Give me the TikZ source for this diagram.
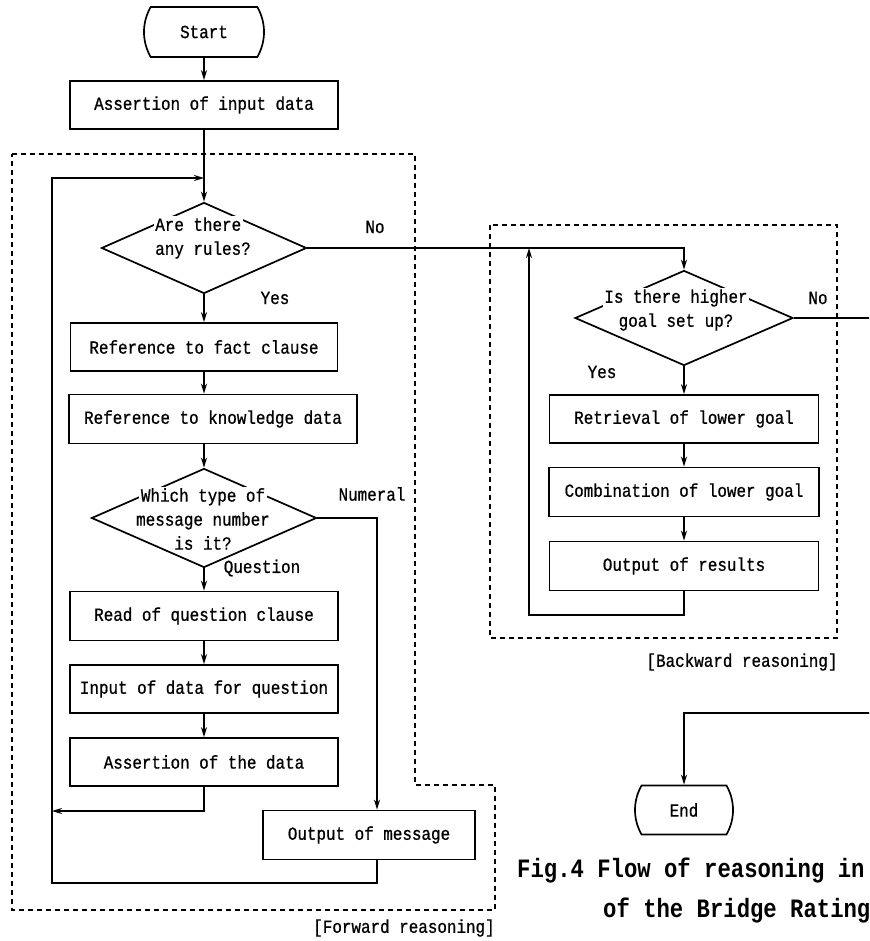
\documentclass[tikz,border=0pt]{standalone}
\usepackage{fontspec}
\setmainfont[FakeStretch=0.86,FakeBold=0.8]{Liberation Mono}
\newfontfamily\capfont[FakeStretch=0.84]{Liberation Mono}
\usetikzlibrary{positioning,calc,shapes.geometric,shapes.misc,arrows.meta}

\newcommand{\gapbox}[1]{{\setlength{\fboxsep}{1.5pt}\colorbox{white}{#1}}}

\tikzset{
  proc/.style={rectangle,draw,line width=1.7pt,minimum height=48pt,inner sep=0pt},
  term/.style={rounded rectangle,rounded rectangle arc length=60,draw,line width=1.7pt,
               minimum height=50pt,inner sep=0pt},
  dec/.style={diamond,draw,line width=1.7pt,inner sep=0pt},
  dectext/.style={inner sep=0pt,align=center},
  lbl/.style={inner sep=0pt},
  region/.style={draw,line width=1.3pt,dash pattern=on 5pt off 4pt},
  flow/.style={line width=1.7pt,->}
}

\begin{document}
\begin{tikzpicture}[x=1pt,y=-1pt,>={Stealth[length=10pt,width=6pt]},
                    every node/.style={font=\fontsize{18.5}{24}\selectfont}]
    \useasboundingbox (0,0) rectangle (869,941);
    \clip (0,0) rectangle (869,941);

    %Regions
    \draw[region] (12,154) -- (415,154) -- (415,785) -- (495,785) -- (495,910) -- (12,910) -- cycle;
    \draw[region] (490,225) rectangle (837,638);

    %Nodes (forward)
    \node[term,minimum width=120pt] (start) at (204,32) {Start};
    \node[proc,minimum width=268pt] (assert1) at (204,105) {Assertion of input data};
    \node[dec,minimum width=205pt,minimum height=91pt] (q1) at (204,248) {};
    \node[dectext,align=left] (q1t) at (203,238) {\gapbox{Are there}\\\gapbox{any rules?}};
    \node[proc,minimum width=267pt] (fact) at (204,347) {Reference to fact clause};
    \node[proc,minimum width=288pt,minimum height=49pt] (know) at (213,419) {Reference to knowledge data};
    \node[dec,minimum width=225pt,minimum height=99pt] (q2) at (204,518) {};
    \node[dectext] (q2t) at (203,519) {\gapbox{Which type of}\\\gapbox{message number}\\\gapbox{is it?}};
    \node[proc,minimum width=268pt,minimum height=49pt] (readq) at (204,616) {Read of question clause};
    \node[proc,minimum width=268pt] (inputq) at (204,689) {Input of data for question};
    \node[proc,minimum width=268pt] (assertd) at (204,762) {Assertion of the data};
    \node[proc,minimum width=212pt,minimum height=49pt] (outmsg) at (369,835) {Output of message};

    %Nodes (backward)
    \node[dec,minimum width=218pt,minimum height=95pt] (q3) at (684,318) {};
    \node[dectext] (q3t) at (676,310) {\gapbox{Is there higher}\\\gapbox{goal set up?}};
    \node[proc,minimum width=269pt] (retr) at (684,419) {Retrieval of lower goal};
    \node[proc,minimum width=270pt,minimum height=49pt] (comb) at (684,492) {Combination of lower goal};
    \node[proc,minimum width=269pt,minimum height=49pt] (outres) at (684,566) {Output of results};
    \node[term,minimum width=87pt,minimum height=49pt] (end) at (684,810) {End};

    %Labels
    \node[lbl] (no1) at (375,227) {No};
    \node[lbl] (yes1) at (275,298) {Yes};
    \node[lbl] (numeral) at (372,494) {Numeral};
    \node[lbl] (question) at (262,568) {Question};
    \node[lbl] (no2) at (818,298) {No};
    \node[lbl] (yes2) at (602,372) {Yes};
    \node[lbl] (fwd) at (404,928) {[Forward reasoning]};
    \node[lbl] (bwd) at (742,662) {[Backward reasoning]};
    \node[lbl,anchor=west,font=\capfont\bfseries\fontsize{26.5}{32}\selectfont] (cap1) at (517,871) {Fig.4 Flow of reasoning in};
    \node[lbl,anchor=west,font=\capfont\bfseries\fontsize{26.5}{32}\selectfont] (cap2) at (603,911) {of the Bridge Rating};

    %Junctions
    \coordinate (j1) at (204,178);
    \coordinate (j2) at (52,811);
    \coordinate (lb) at (52,883);
    \coordinate (j3) at (529,248);
    \coordinate (rb) at (529,615);
    \coordinate (rt) at (900,713);

    %Lines
    \draw[flow] (start) -- (assert1);
    \draw[flow] (assert1) -- (q1);
    \draw[flow] (q1) -- (fact);
    \draw[flow] (fact) -- (fact |- know.north);
    \draw[flow] (know.south -| q2) -- (q2);
    \draw[flow] (q2) -- (readq);
    \draw[flow] (readq) -- (inputq);
    \draw[flow] (inputq) -- (assertd);
    \draw[flow] (assertd) |- (j2);
    \draw[flow] (q2.east) -| ([xshift=8pt]outmsg.north);
    \draw[flow] ([xshift=8pt]outmsg.south) |- (lb) |- (j1);
    \draw[flow] (q1.east) -| (q3.north);
    \draw[flow] (q3) -- (retr);
    \draw[flow] (retr) -- (comb);
    \draw[flow] (comb) -- (outres);
    \draw[flow] (outres) |- (rb) -- (j3);
    \draw[flow] (q3.east) -- (q3.east -| rt) -- (rt) -| (end);
\end{tikzpicture}
\end{document}
